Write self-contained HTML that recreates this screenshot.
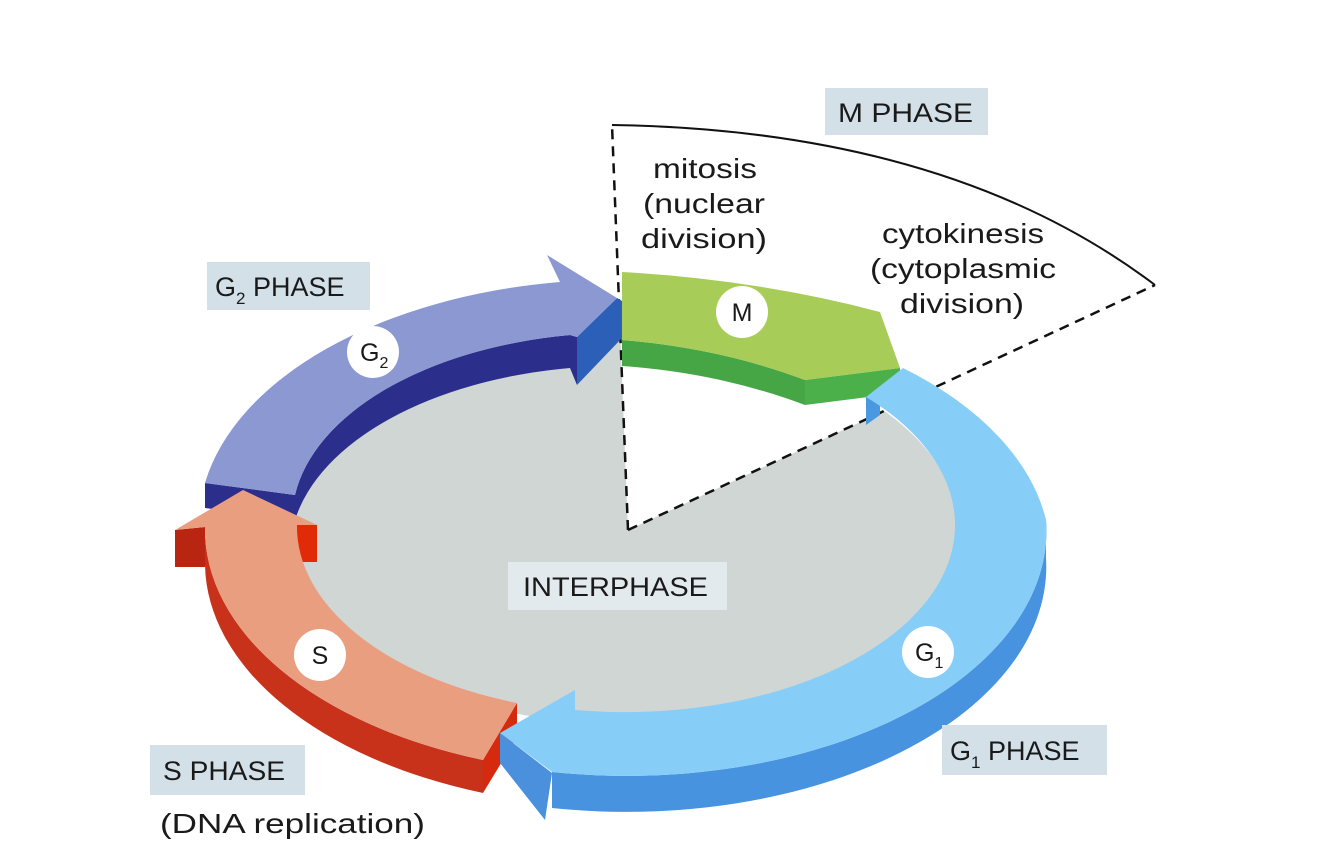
<!DOCTYPE html>
<html><head><meta charset="utf-8"><style>
html,body{margin:0;padding:0;background:#fff;}
svg{display:block;}
text{font-family:"Liberation Sans",sans-serif;fill:#1a1a1a;}
</style></head><body>
<svg width="1334" height="860" viewBox="0 0 1334 860">
<ellipse cx="625" cy="532" rx="334" ry="192" fill="#cfd6d3"/>
<polygon points="628,530 612,125 1155,285" fill="#fff"/>
<path d="M612,125 Q950,130 1155,285" fill="none" stroke="#111" stroke-width="2"/>
<line x1="628" y1="530" x2="612" y2="125" stroke="#111" stroke-width="2.5" stroke-dasharray="10,7"/>
<line x1="628" y1="530" x2="1155" y2="285" stroke="#111" stroke-width="2.5" stroke-dasharray="10,7"/>

<path d="M295,495 A330,187 0 0 1 570,335 L577,337 L577,385 L570,368 A330,187 0 0 0 295,520 Z" fill="#2c2e8c"/>
<polygon points="205,483 295,495 295,520 205,508" fill="#2c2e8c"/>
<polygon points="617,298 622,301 622,338 577,385 577,337" fill="#2c5fb8"/>
<path d="M205,483 A420,245 0 0 1 560,282 L547,255 L617,298 L577,337 L570,335 A330,187 0 0 0 295,495 Z" fill="#8b98d2"/>

<path d="M622,340 Q720,348 805,380 L805,405 Q720,373 622,366 Z" fill="#46a646"/>
<polygon points="805,380 900,368 900,393 805,405" fill="#4cb04a"/>
<path d="M622,272 Q760,280 880,312 L900,368 L805,380 Q720,348 622,340 Z" fill="#a8cc58"/>

<path d="M205,527 A420,245 0 0 0 483,760 L483,793 A420,245 0 0 1 205,565 Z" fill="#c8321a"/>
<polygon points="175,530 205,527 205,567 175,567" fill="#b82612"/>
<polygon points="295,525 317,525 317,562 295,562" fill="#e02a08"/>
<polygon points="517,703 483,760 483,793 517,737" fill="#d62a0e"/>
<path d="M205,527 A420,245 0 0 0 483,760 L517,703 A330,187 0 0 1 297,525 L317,525 L243,490 L175,530 Z" fill="#e99e80"/>

<path d="M1046,520 A420,245 0 0 1 552,772 L552,808 A420,245 0 0 0 1046,558 Z" fill="#4793df"/>
<polygon points="500,733 552,773 545,820 500,763" fill="#4a90dc"/>
<polygon points="866,397 880,388 880,415 866,425" fill="#4a98e0"/>
<path d="M903,368 A420,245 0 0 1 1046,520 A420,245 0 0 1 552,772 L500,733 L575,690 L575,710 A330,187 0 0 0 955,528 A330,187 0 0 0 866,397 Z" fill="#86cdf7"/>

<rect x="825" y="88" width="163" height="47" fill="#d3e0e8"/>
<text x="838" y="122" font-size="27" textLength="135" lengthAdjust="spacingAndGlyphs">M PHASE</text>
<rect x="207" y="262" width="163" height="48" fill="#d3e0e8"/>
<text x="215" y="296" font-size="27">G<tspan font-size="17" dy="8">2</tspan><tspan dy="-8"> PHASE</tspan></text>
<rect x="508" y="562" width="219" height="48" fill="#e3eaee"/>
<text x="523" y="596" font-size="27" textLength="185" lengthAdjust="spacingAndGlyphs">INTERPHASE</text>
<rect x="942" y="725" width="165" height="50" fill="#d3e0e8"/>
<text x="950" y="760" font-size="27">G<tspan font-size="17" dy="8">1</tspan><tspan dy="-8"> PHASE</tspan></text>
<rect x="150" y="745" width="155" height="50" fill="#d3e0e8"/>
<text x="163" y="780" font-size="27" textLength="122" lengthAdjust="spacingAndGlyphs">S PHASE</text>
<text x="160" y="833" font-size="28" textLength="265" lengthAdjust="spacingAndGlyphs">(DNA replication)</text>

<text x="653" y="178" font-size="28" textLength="104" lengthAdjust="spacingAndGlyphs">mitosis</text>
<text x="643" y="213" font-size="28" textLength="122" lengthAdjust="spacingAndGlyphs">(nuclear</text>
<text x="641" y="248" font-size="28" textLength="126" lengthAdjust="spacingAndGlyphs">division)</text>
<text x="882" y="243" font-size="28" textLength="162" lengthAdjust="spacingAndGlyphs">cytokinesis</text>
<text x="870" y="278" font-size="28" textLength="186" lengthAdjust="spacingAndGlyphs">(cytoplasmic</text>
<text x="900" y="313" font-size="28" textLength="124" lengthAdjust="spacingAndGlyphs">division)</text>

<circle cx="742" cy="312" r="26" fill="#fff"/>
<text x="742" y="321" font-size="25" text-anchor="middle">M</text>
<circle cx="373" cy="352" r="26" fill="#fff"/>
<text x="360" y="361" font-size="25">G<tspan font-size="16" dy="7">2</tspan></text>
<circle cx="320" cy="655" r="26" fill="#fff"/>
<text x="320" y="664" font-size="25" text-anchor="middle">S</text>
<circle cx="928" cy="652" r="26" fill="#fff"/>
<text x="915" y="661" font-size="25">G<tspan font-size="16" dy="7">1</tspan></text>
</svg>
</body></html>
